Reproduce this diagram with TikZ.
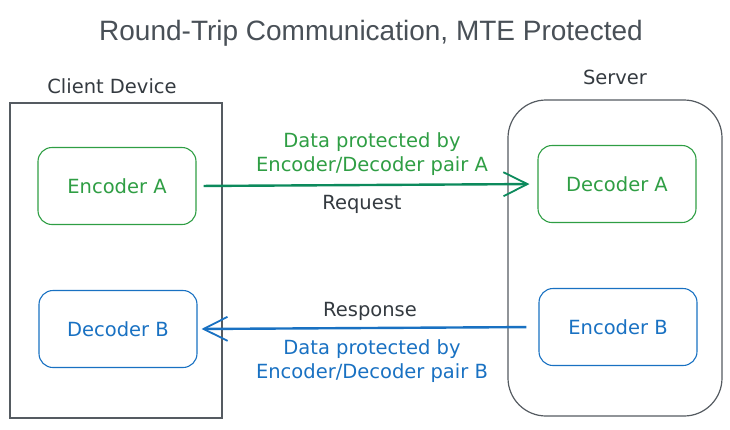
\documentclass[tikz,border=0pt]{standalone}
\usepackage{fontspec}
\setmainfont{Liberation Sans}
\newfontfamily\sketchfont{DejaVu Sans}
\usetikzlibrary{arrows.meta}

\definecolor{encgreen}{HTML}{2F9E44}
\definecolor{arrgreen}{HTML}{0C8A5C}
\definecolor{encblue}{HTML}{1971C2}
\definecolor{framegray}{HTML}{555B61}
\definecolor{titlegray}{HTML}{495057}
\definecolor{inkgray}{HTML}{343A40}

\begin{document}
\begin{tikzpicture}[x=1pt,y=-1pt,
  hand/.style={font=\sketchfont\fontsize{19.5}{24}\selectfont,inner sep=1pt},
  unit/.style={hand,draw,line width=1.1pt,rounded corners=14pt,
    minimum width=158pt,minimum height=77pt},
  msg/.style={line width=2.4pt,-{Straight Barb[length=24pt,width=24pt,line width=1.8pt]}}]
  \useasboundingbox (0,0) rectangle (730,429);

  %% Title
  \node[text=titlegray,font=\fontsize{28}{32}\selectfont] (TITLE) at (371,33)
    {Round-Trip Communication, MTE Protected};

  %% The two machines
  \node[draw=framegray,line width=1.4pt,minimum width=212pt,minimum height=315pt] (CLIENT) at (116,260.5) {};
  \node[hand,text=inkgray] (CLIENTNAME) at (112,86) {Client Device};
  \node[draw=framegray,line width=1.2pt,rounded corners=38pt,minimum width=214pt,minimum height=316pt] (SERVER) at (615,258) {};
  \node[hand,text=inkgray] (SERVERNAME) at (615,77) {Server};

  %% Encoders and decoders
  \node[unit,draw=encgreen,text=encgreen] (ENCA) at (117,186) {Encoder A};
  \node[unit,draw=encblue,text=encblue]   (DECB) at (118,329) {Decoder B};
  \node[unit,draw=encgreen,text=encgreen] (DECA) at (617,184) {Decoder A};
  \node[unit,draw=encblue,text=encblue]   (ENCB) at (618,327) {Encoder B};

  %% Request path
  \draw[msg,arrgreen,shorten <=7pt,shorten >=8pt] (ENCA.east) -- (DECA.west);
  \node[hand,text=encgreen,align=center] (DATAA) at (372,154) {Data protected by\\Encoder/Decoder pair A};
  \node[hand,text=inkgray] (REQ) at (362,204) {Request};

  %% Response path
  \draw[msg,encblue,shorten <=12pt,shorten >=4pt] (ENCB.west) -- (DECB.east);
  \node[hand,text=inkgray] (RESP) at (370,311) {Response};
  \node[hand,text=encblue,align=center] (DATAB) at (372,361) {Data protected by\\Encoder/Decoder pair B};

\end{tikzpicture}
\end{document}
